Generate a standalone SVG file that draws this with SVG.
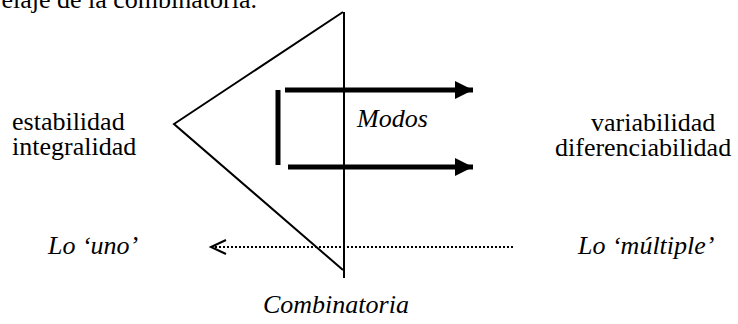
<svg xmlns="http://www.w3.org/2000/svg" width="738" height="324" viewBox="0 0 738 324">
<style>
text{font-family:"Liberation Serif","Times New Roman",serif;font-size:26px;fill:#000}
.i{font-style:italic}
.thick{stroke:#000;stroke-width:5;fill:none}
</style>
<defs>
<marker id="ah" markerWidth="20" markerHeight="18" refX="18" refY="9" orient="auto" markerUnits="userSpaceOnUse">
<path d="M0,0 L18,9 L0,18 Z" fill="#000"/>
</marker>
</defs>
<rect width="738" height="324" fill="#fff"/>
<text x="257" y="8" text-anchor="end">elaje de la combinatoria.</text>
<g id="triangle">
<polyline points="343,12 174,124 343,270" fill="none" stroke="#000" stroke-width="2"/>
<line x1="344" y1="12" x2="344" y2="278" stroke="#000" stroke-width="2"/>
</g>
<g id="bar">
<line x1="278" y1="90" x2="278" y2="165" class="thick"/>
</g>
<g id="connectors">
<line x1="285" y1="90" x2="473" y2="90" class="thick" marker-end="url(#ah)"/>
<line x1="288" y1="167" x2="473" y2="167" class="thick" marker-end="url(#ah)"/>
<line x1="513" y1="247" x2="212" y2="247" stroke="#000" stroke-width="2" stroke-dasharray="2,2"/>
<polyline points="226,240 211,247 226,254" fill="none" stroke="#000" stroke-width="2"/>
</g>
<g id="modos"><text class="i" x="357" y="127">Modos</text></g>
<g id="left"><text x="12" y="130">estabilidad</text><text x="12" y="155">integralidad</text></g>
<g id="right"><text x="591" y="131">variabilidad</text><text x="555" y="156">diferenciabilidad</text></g>
<g id="uno"><text class="i" x="48" y="254">Lo ‘uno’</text></g>
<g id="multiple"><text class="i" x="578" y="254">Lo ‘múltiple’</text></g>
<g id="combinatoria"><text class="i" x="263" y="313">Combinatoria</text></g>
</svg>
